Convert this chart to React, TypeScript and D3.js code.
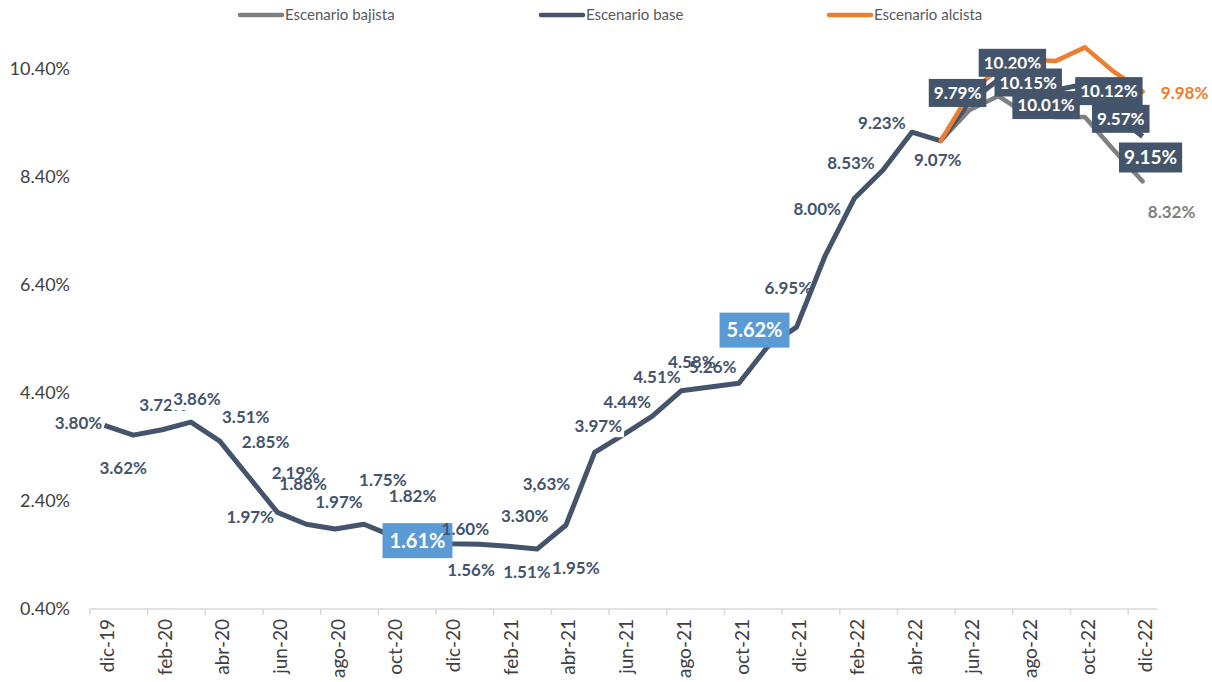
import React from 'react';
import * as d3 from 'd3';

const months = [
  'dic-19', 'ene-20', 'feb-20', 'mar-20', 'abr-20', 'may-20', 'jun-20', 'jul-20', 'ago-20', 'sep-20',
  'oct-20', 'nov-20', 'dic-20', 'ene-21', 'feb-21', 'mar-21', 'abr-21', 'may-21', 'jun-21', 'jul-21',
  'ago-21', 'sep-21', 'oct-21', 'nov-21', 'dic-21', 'ene-22', 'feb-22', 'mar-22', 'abr-22', 'may-22',
  'jun-22', 'jul-22', 'ago-22', 'sep-22', 'oct-22', 'nov-22', 'dic-22',
];

const base = [
  3.8, 3.62, 3.72, 3.86, 3.51, 2.85, 2.19, 1.97, 1.88, 1.97,
  1.75, 1.82, 1.61, 1.6, 1.56, 1.51, 1.95, 3.3, 3.63, 3.97,
  4.44, 4.51, 4.58, 5.26, 5.62, 6.95, 8.0, 8.53, 9.23, 9.07,
  9.79, 10.2, 10.15, 10.01, 10.12, 9.57, 9.15,
];

const pre = new Array(29).fill(null);
const bajista: (number | null)[] = [...pre, 9.07, 9.64, 9.9, 9.55, 9.51, 9.51, 8.9, 8.32];
const alcista: (number | null)[] = [...pre, 9.07, 9.95, 10.4, 10.57, 10.55, 10.8, 10.35, 9.98];

const yTicks = [0.4, 2.4, 4.4, 6.4, 8.4, 10.4];
const seriesNames = ['Escenario bajista', 'Escenario base', 'Escenario alcista'];

// label text (one label was typed with a comma in the source)
const baseLabels = base.map(v => `${v.toFixed(2)}%`);
baseLabels[18] = '3,63%';

// label placement relative to the point, as Excel left them
const baseLabelOffsets = [
  [-26, -3], [-10, 33], [1, -25], [6, -23], [26, -24], [17, -35], [18, -39], [-56, -7], [-32, -45], [-25, -22],
  [-10, -56], [-9, -36], [-33, -3], [-14, -15], [-37, 24], [-10, 23], [10, 43], [-70, 63], [-77, 49], [-54, 10],
  [-54, 11], [-53, -10], [-47, -21], [-55, 20], [-42, 3], [-37, 33], [-37, 10], [-32, -7], [-30, -9], [-3, 19],
  [-12, -9], [14, -17], [1, 0], [-10, 15], [24, 7], [7, 5], [8, 21],
];
const whiteBg = [3, 16, 19];
const blueBox = [12, 24];
const navyBox = [30, 31, 32, 33, 34, 35, 36];

let ctx: CanvasRenderingContext2D | null = null;
const measure = (text: string, size: number) => {
  if (!ctx) ctx = document.createElement('canvas').getContext('2d');
  if (!ctx) return text.length * size * 0.55;
  ctx.font = `bold ${size}px Lato`;
  return ctx.measureText(text).width;
};

const App = () => {
  const width = 1212;
  const height = 682;
  const navy = '#44546A';
  const gray = '#7F7F7F';
  const orange = '#ED7D31';
  const blue = '#5B9BD5';
  const axisText = '#404040';
  const font = 'Lato, "Open Sans", sans-serif';
  const margin = { top: 69, right: 55, bottom: 73, left: 90 };

  const xScale = d3
    .scaleBand<string>()
    .domain(months)
    .range([margin.left, width - margin.right])
    .paddingInner(0)
    .paddingOuter(0);
  const cx = (i: number) => (xScale(months[i]) as number) + xScale.bandwidth() / 2;

  const yScale = d3
    .scaleLinear()
    .domain([0.4, 10.4])
    .range([height - margin.bottom, margin.top]);

  const lineGenerator = d3
    .line<number | null>()
    .defined(d => d != null)
    .x((d, i) => cx(i))
    .y(d => yScale(d as number));

  const axisY = height - margin.bottom;

  const legend = [
    { name: seriesNames[0], color: gray, x: 240 },
    { name: seriesNames[1], color: navy, x: 541 },
    { name: seriesNames[2], color: orange, x: 829 },
  ];

  const renderLabel = (text: string, x: number, y: number, i: number) => {
    if (navyBox.includes(i) || blueBox.includes(i)) {
      const isBlue = blueBox.includes(i);
      const size = isBlue ? 20 : i === 36 ? 19 : 17;
      const tw = measure(text, size);
      const padX = isBlue ? 7 : 5;
      const h = isBlue ? 35 : i === 36 ? 30 : 28;
      return (
        <g key={`lab-${i}`}>
          <rect x={x - tw / 2 - padX} y={y - h / 2} width={tw + padX * 2} height={h} fill={isBlue ? blue : navy} />
          <text x={x} y={y} dy='0.36em' textAnchor='middle' fontSize={size} fontWeight='bold' fill='#fff'>
            {text}
          </text>
        </g>
      );
    }
    const tw = measure(text, 17);
    return (
      <g key={`lab-${i}`}>
        {whiteBg.includes(i) && (
          <rect x={x - tw / 2 - 2} y={y - 11} width={tw + 4} height={22} fill='#fff' />
        )}
        <text x={x} y={y} dy='0.36em' textAnchor='middle' fontSize={17} fontWeight='bold' fill={navy}>
          {text}
        </text>
      </g>
    );
  };

  return (
    <svg
      width={width}
      height={height}
      viewBox={`0 0 ${width} ${height}`}
      style={{ position: 'absolute', left: 0, top: 0, background: '#fff', fontFamily: font }}
    >
      {/* legend */}
      {legend.map(l => (
        <g key={l.name}>
          <line x1={l.x} x2={l.x + 42} y1={15} y2={15} stroke={l.color} strokeWidth={4.5} strokeLinecap='round' />
          <text x={l.x + 45} y={15} dy='0.35em' fontSize={15} fill='#595959'>
            {l.name}
          </text>
        </g>
      ))}

      {/* y tick labels */}
      {yTicks.map(t => (
        <text key={`yt-${t}`} x={70} y={yScale(t)} dy='0.35em' textAnchor='end' fontSize={18} fill={axisText}>
          {`${t.toFixed(2)}%`}
        </text>
      ))}

      {/* x axis */}
      <line x1={margin.left} x2={width - margin.right} y1={axisY} y2={axisY} stroke='#D9D9D9' strokeWidth={1.5} />
      {months.map((m, i) =>
        i % 2 === 0 ? (
          <g key={`xt-${m}`}>
            <line
              x1={xScale(m) as number}
              x2={xScale(m) as number}
              y1={axisY}
              y2={axisY + 6}
              stroke='#D9D9D9'
              strokeWidth={1.5}
            />
            <text
              transform={`translate(${cx(i) + 3}, ${axisY + 10}) rotate(-90)`}
              dy='0.35em'
              textAnchor='end'
              fontSize={19}
              fill={axisText}
            >
              {m}
            </text>
          </g>
        ) : null
      )}

      {/* lines */}
      <path d={lineGenerator(bajista) || ''} fill='none' stroke={gray} strokeWidth={4.5} strokeLinejoin='round' strokeLinecap='round' />
      <path d={lineGenerator(base) || ''} fill='none' stroke={navy} strokeWidth={5} strokeLinejoin='round' />
      <path d={lineGenerator(alcista) || ''} fill='none' stroke={orange} strokeWidth={4.5} strokeLinejoin='round' strokeLinecap='round' />

      {/* scenario end labels */}
      <text x={cx(36) + 29} y={yScale(bajista[36] as number) + 31} dy='0.36em' textAnchor='middle' fontSize={17} fontWeight='bold' fill={gray}>
        {`${(bajista[36] as number).toFixed(2)}%`}
      </text>

      {/* base labels */}
      {base.map((v, i) => renderLabel(baseLabels[i], cx(i) + baseLabelOffsets[i][0], yScale(v) + baseLabelOffsets[i][1], i))}

      <text x={cx(36) + 42} y={yScale(alcista[36] as number) + 1} dy='0.36em' textAnchor='middle' fontSize={17} fontWeight='bold' fill={orange}>
        {`${(alcista[36] as number).toFixed(2)}%`}
      </text>
    </svg>
  );
};

export default App;
